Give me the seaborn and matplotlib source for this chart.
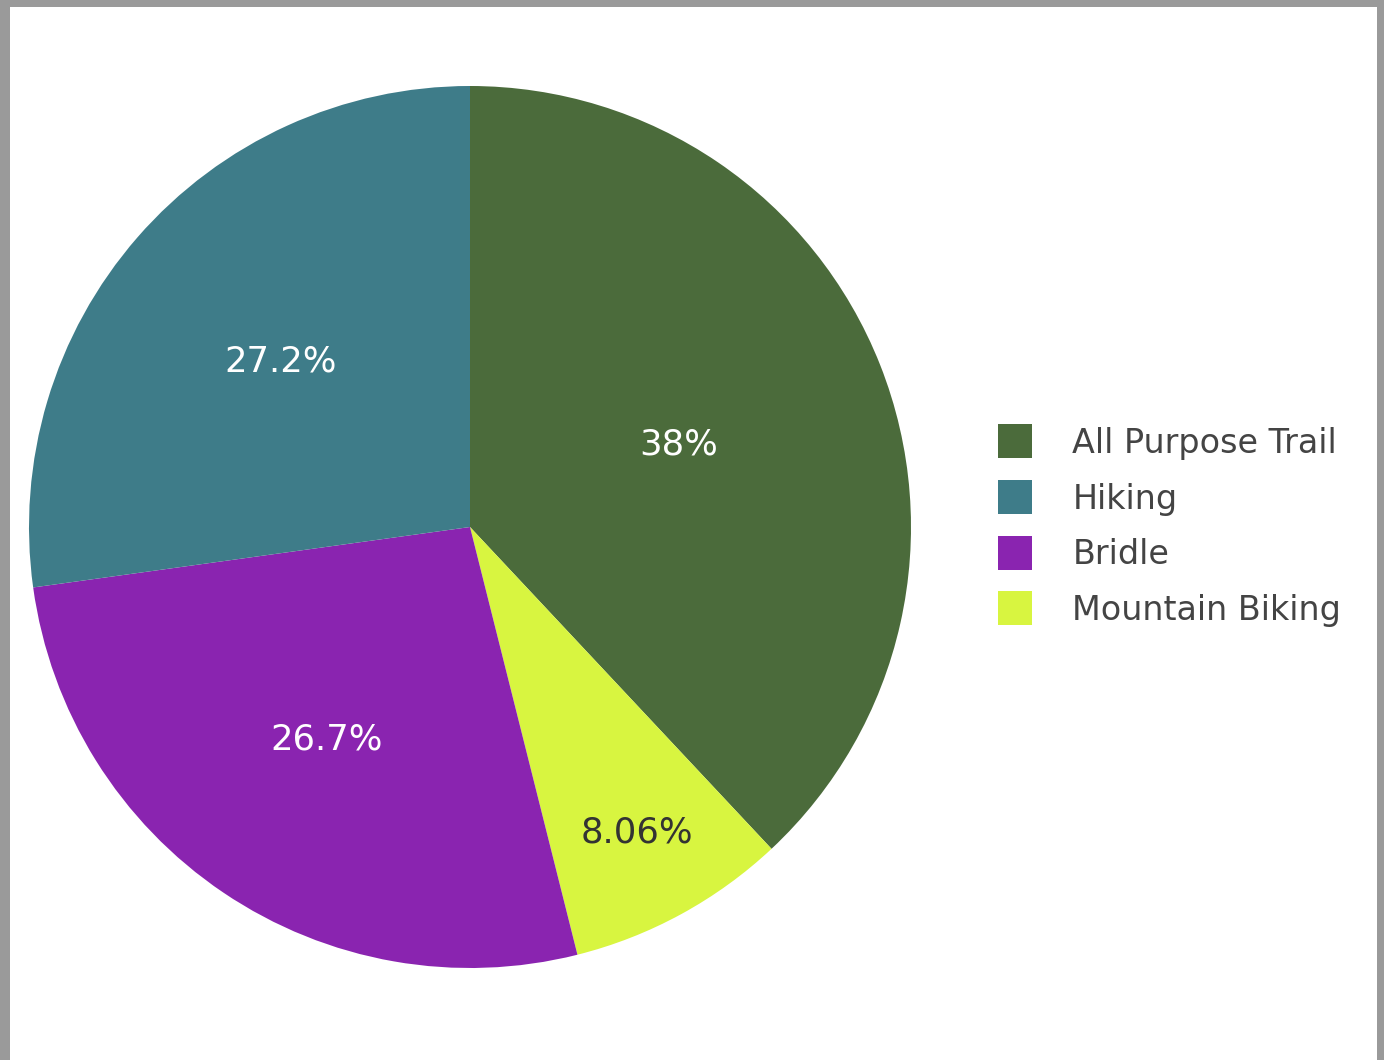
import numpy as np
import matplotlib
matplotlib.use("Agg")
import matplotlib.pyplot as plt
import seaborn as sns
from matplotlib.lines import Line2D
from matplotlib.patches import Rectangle

# trail type counts
trail_types = ["All Purpose Trail", "Mountain Biking", "Bridle", "Hiking"]
trail_counts = [165, 35, 116, 118]
legend_order = ["All Purpose Trail", "Hiking", "Bridle", "Mountain Biking"]
colors = {
    "All Purpose Trail": "#4b6b3b",
    "Hiking": "#3e7c89",
    "Bridle": "#8a24b0",
    "Mountain Biking": "#d8f540",
}
text_colors = {
    "All Purpose Trail": "white",
    "Hiking": "white",
    "Bridle": "white",
    "Mountain Biking": "#333333",
}
# radial position of each percent label (fraction of radius)
label_radius = {
    "All Purpose Trail": 0.51,
    "Hiking": 0.57,
    "Bridle": 0.58,
    "Mountain Biking": 0.79,
}

sns.set_theme(style="white")
plt.rcParams['font.family'] = ['DejaVu Sans']

W, H = 1384, 1060
fig = plt.figure(figsize=(W / 100, H / 100), dpi=100)
fig.patch.set_facecolor("white")

# gray frame of the screenshot
fig.add_artist(Rectangle((0, 0), 10 / W, 1, transform=fig.transFigure, color="#9a9a9a", lw=0))
fig.add_artist(Rectangle((0, 1 - 7 / H), 1, 7 / H, transform=fig.transFigure, color="#9a9a9a", lw=0))
fig.add_artist(Rectangle((1 - 7 / W, 0), 7 / W, 1, transform=fig.transFigure, color="#9a9a9a", lw=0))

cx, cy, r = 470, 527, 441
ax = fig.add_axes([(cx - r) / W, (H - cy - r) / H, 2 * r / W, 2 * r / H])

wedges, _ = ax.pie(
    trail_counts,
    colors=[colors[t] for t in trail_types],
    startangle=90,
    counterclock=False,
    wedgeprops=dict(linewidth=0),
)
total = sum(trail_counts)
for w, name, val in zip(wedges, trail_types, trail_counts):
    ang = np.deg2rad((w.theta1 + w.theta2) / 2)
    rr = label_radius[name]
    pct = "{:.3g}%".format(100 * val / total)
    ax.text(rr * np.cos(ang), rr * np.sin(ang), pct, ha="center", va="center",
            fontsize=25.5, color=text_colors[name])
ax.set_xlim(-1, 1)
ax.set_ylim(-1, 1)
ax.set_aspect("equal")
ax.axis("off")

handles = [Line2D([], [], marker="s", linestyle="none", markersize=25,
                  markerfacecolor=colors[t], markeredgewidth=0) for t in legend_order]
leg = fig.legend(handles, legend_order, loc="center left",
                 bbox_to_anchor=(965 / W, 1 - 527 / H), frameon=False,
                 fontsize=24, handletextpad=0.72, labelspacing=0.68, borderpad=0)
for t in leg.get_texts():
    t.set_color("#444444")

fig.savefig("out.png", dpi=100)
